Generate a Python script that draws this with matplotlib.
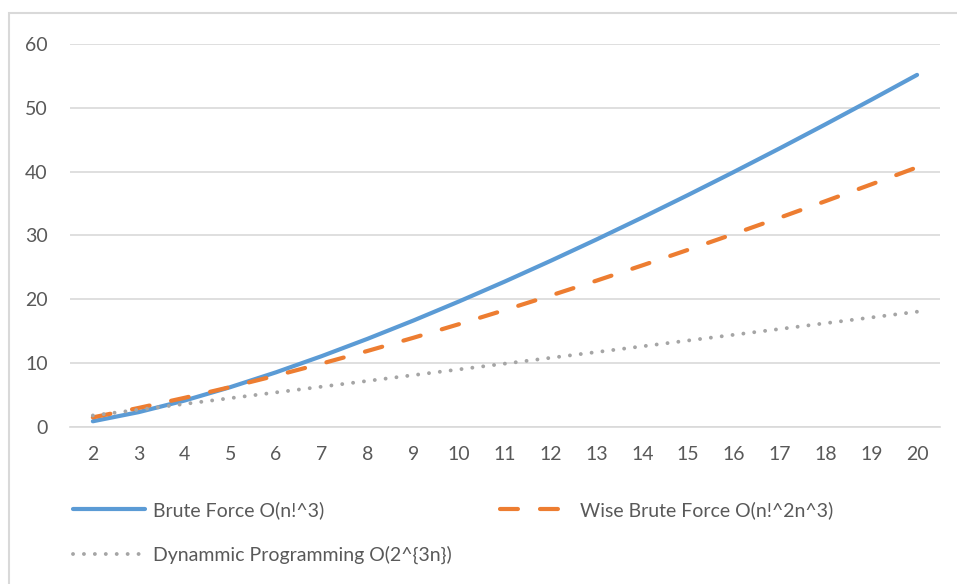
import matplotlib.pyplot as plt
from matplotlib.patches import Rectangle

n = list(range(2, 21))
brute = [0.90, 2.33, 4.14, 6.24, 8.57, 11.11, 13.82, 16.68, 19.68, 22.80,
         26.04, 29.38, 32.82, 36.35, 39.96, 43.65, 47.42, 51.26, 55.16]
wise = [1.51, 2.99, 4.57, 6.26, 8.05, 9.94, 11.92, 13.98, 16.12, 18.33,
        20.60, 22.93, 25.32, 27.76, 30.25, 32.79, 35.38, 38.01, 40.68]
dp = [1.81, 2.71, 3.61, 4.52, 5.42, 6.32, 7.22, 8.13, 9.03, 9.93,
      10.84, 11.74, 12.64, 13.55, 14.45, 15.35, 16.26, 17.16, 18.06]
yticks = [0, 10, 20, 30, 40, 50, 60]

txt = '#595959'
plt.rcParams['font.family'] = ['Lato', 'DejaVu Sans']

fig = plt.figure(figsize=(9.57, 5.84), dpi=100)
ax = fig.add_axes([0.0731, 0.2688, 0.9091, 0.6559])

# chart frame
fig.patches.append(Rectangle((9/957, -0.05), 1.1, 0.05 + 1 - 13/584, transform=fig.transFigure,
                             fill=False, edgecolor='#D9D9D9', linewidth=1.5))

l1, = ax.plot(n, brute, color='#5B9BD5', lw=3, solid_capstyle='round', label='Brute Force O(n!^3)')
l2, = ax.plot(n, wise, color='#ED7D31', lw=3, dashes=(4.3, 5.3), dash_capstyle='round',
              label='Wise Brute Force O(n!^2n^3)')
l3, = ax.plot(n, dp, color='#A5A5A5', lw=2.8, dashes=(0.01, 2.8), dash_capstyle='round',
              label='Dynammic Programming O(2^{3n})')

ax.set_xlim(1.5, 20.5)
ax.set_ylim(0, 60)
ax.set_xticks(n)
ax.set_yticks(yticks)
ax.grid(axis='y', color='#D9D9D9', lw=1.2)
ax.set_axisbelow(True)
for s in ax.spines.values():
    s.set_visible(False)
ax.spines['bottom'].set_visible(True)
ax.spines['bottom'].set_color('#D9D9D9')
ax.spines['bottom'].set_linewidth(1.2)
ax.tick_params(length=0, labelsize=14, labelcolor=txt, pad=14)
ax.tick_params(axis='y', pad=16)

leg = fig.legend(handles=[l1, l3, l2], loc='upper left', bbox_to_anchor=(0.068, 0.155),
                 ncol=2, frameon=False, fontsize=14, handlelength=3.7, handletextpad=0.4,
                 columnspacing=2.5, labelspacing=1.35, borderaxespad=0)
for t in leg.get_texts():
    t.set_color(txt)

fig.savefig('out.png', dpi=100)
